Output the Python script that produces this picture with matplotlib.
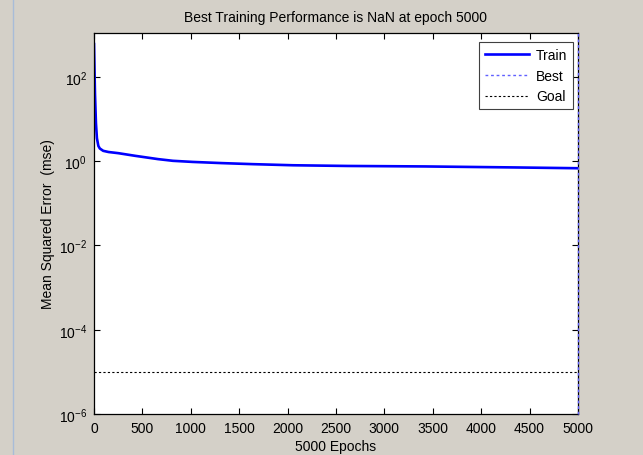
import matplotlib
matplotlib.use("Agg")
import matplotlib.pyplot as plt
from matplotlib.lines import Line2D

plt.rcParams['font.family'] = ['Liberation Sans', 'DejaVu Sans']
plt.rcParams['mathtext.default'] = 'regular'
plt.rcParams['font.size'] = 10

# training record
epochs = [0, 5, 10, 20, 30, 45, 60, 95, 150, 250, 425, 660, 815, 1020,
          1320, 1640, 2055, 2620, 3420, 4350, 5000]
train_mse = [600, 150, 40, 8, 3.5, 2.3, 2.0, 1.76, 1.65, 1.55, 1.34, 1.12,
             1.02, 0.96, 0.90, 0.85, 0.80, 0.77, 0.75, 0.71, 0.68]
best_epoch = 5000
goal = 1e-5
y_limits = (1e-6, 1.1e3)
x_ticks = list(range(0, 5001, 500))
y_ticks = [1e-6, 1e-4, 1e-2, 1e0, 1e2]

bg = '#d4d0c8'
fig = plt.figure(figsize=(6.43, 4.56), dpi=100, facecolor=bg)
ax = fig.add_axes([0.1462, 0.0899, 0.7527, 0.8355])
ax.set_facecolor('white')

ax.plot(epochs, train_mse, color='#0000ff', lw=1.9, label='Train')
ax.plot([best_epoch, best_epoch], y_limits, color='#6060ff', lw=1.0,
        linestyle=(0, (2, 2)), label='Best', clip_on=False, zorder=3)
ax.plot([epochs[0], epochs[-1]], [goal, goal], color='black', lw=0.8,
        linestyle=(0, (2, 2)), label='Goal')

ax.set_yscale('log')
ax.set_xlim(epochs[0], epochs[-1])
ax.set_ylim(*y_limits)
ax.set_xticks(x_ticks)
ax.set_yticks(y_ticks)
ax.minorticks_off()
ax.tick_params(direction='in', top=True, right=True, length=4, width=0.8,
               labelsize=10, pad=5)
for s in ax.spines.values():
    s.set_linewidth(0.9)

ax.set_title('Best Training Performance is NaN at epoch 5000', fontsize=10, pad=9)
ax.set_xlabel('5000 Epochs', fontsize=10, labelpad=3)
ax.set_ylabel('Mean Squared Error  (mse)', fontsize=10, labelpad=3)

leg = ax.legend(loc='upper right', bbox_to_anchor=(0.9897, 0.9764),
                borderaxespad=0, fancybox=False, framealpha=1,
                edgecolor='#404040', handlelength=3.2, handletextpad=0.5,
                labelspacing=0.5, borderpad=0.4)
leg.get_frame().set_linewidth(0.8)

# window edge on the left
fig.add_artist(Line2D([13 / 643, 13 / 643], [0, 1], color='#a8bcd8', lw=1.0))

fig.savefig('out.png', dpi=100, facecolor=bg)
